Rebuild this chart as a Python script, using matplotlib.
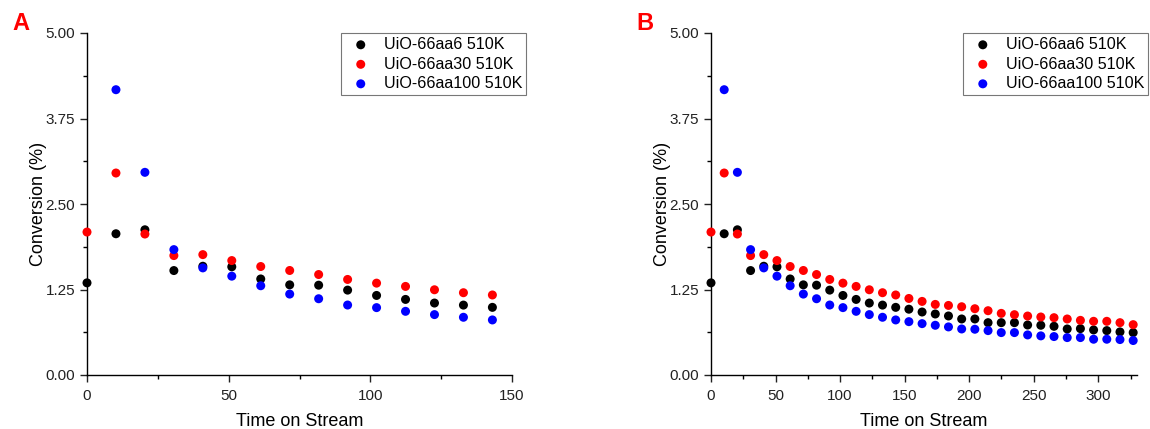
import numpy as np
import matplotlib
matplotlib.use("Agg")
import matplotlib.pyplot as plt
from matplotlib.ticker import MultipleLocator, FormatStrFormatter

plt.rcParams['font.family'] = ['Liberation Sans', 'DejaVu Sans']

# Sampling interval (time on stream) and run data
step = 10.22
n_a = 15
n_b = 33

aa6 = [1.347, 2.065, 2.123, 1.527, 1.590, 1.582, 1.404, 1.318, 1.313, 1.241,
       1.163, 1.105, 1.052, 1.022, 0.989, 0.962, 0.921, 0.892, 0.863, 0.819,
       0.819, 0.765, 0.765, 0.765, 0.731, 0.727, 0.712, 0.673, 0.678, 0.659,
       0.649, 0.630, 0.620]
aa30 = [2.090, 2.953, 2.061, 1.746, 1.760, 1.673, 1.586, 1.528, 1.469, 1.397,
        1.343, 1.295, 1.246, 1.203, 1.170, 1.119, 1.076, 1.032, 1.017, 0.998,
        0.969, 0.940, 0.901, 0.882, 0.862, 0.848, 0.838, 0.819, 0.799, 0.785,
        0.785, 0.765, 0.736]
aa100 = [np.nan, 4.171, 2.963, 1.833, 1.566, 1.445, 1.305, 1.183, 1.115, 1.023,
         0.985, 0.931, 0.883, 0.844, 0.805, 0.780, 0.751, 0.727, 0.703, 0.673,
         0.669, 0.649, 0.620, 0.620, 0.586, 0.572, 0.562, 0.547, 0.547, 0.523,
         0.523, 0.518, 0.504]

labels = ["UiO-66aa6 510K", "UiO-66aa30 510K", "UiO-66aa100 510K"]
colors = ["#000000", "#ff0000", "#0000ff"]

fig = plt.figure(figsize=(11.5, 4.29), dpi=100)
W, H = 1150, 429


def panel(rect, n, xmax, xmajor, legend_right, tag, tag_x):
    l, r, t, b = rect
    ax = fig.add_axes([l / W, 1 - b / H, (r - l) / W, (b - t) / H])
    t_vals = np.arange(n) * step
    for series, c, lab in zip([aa6, aa30, aa100], colors, labels):
        ax.scatter(t_vals, series[:n], s=42, color=c, label=lab,
                   edgecolors='none', clip_on=False, zorder=3)
    ax.set_xlim(0, xmax)
    ax.set_ylim(0, 5)
    ax.yaxis.set_major_locator(MultipleLocator(1.25))
    ax.yaxis.set_minor_locator(MultipleLocator(0.625))
    ax.yaxis.set_major_formatter(FormatStrFormatter('%.2f'))
    ax.xaxis.set_major_locator(MultipleLocator(xmajor))
    ax.xaxis.set_minor_locator(MultipleLocator(xmajor / 2))
    for s in ['top', 'right']:
        ax.spines[s].set_visible(False)
    for s in ['left', 'bottom']:
        ax.spines[s].set_linewidth(1.0)
    ax.tick_params(which='major', direction='out', length=5, width=1.0,
                   labelsize=11, colors='#222222')
    ax.tick_params(which='minor', direction='out', length=3, width=1.0)
    ax.tick_params(axis='x', which='major', pad=5)
    ax.set_xlabel("Time on Stream", fontsize=13, labelpad=7)
    ax.set_ylabel("Conversion (%)", fontsize=13, labelpad=-1)
    leg = ax.legend(loc='upper right', bbox_to_anchor=(legend_right, 1.0),
                    borderaxespad=0, fontsize=11.6, frameon=True, fancybox=False,
                    handletextpad=0.42, labelspacing=0.28, handlelength=2.0,
                    borderpad=0.25, scatterpoints=1)
    leg.get_frame().set_edgecolor('#555555')
    leg.get_frame().set_linewidth(0.8)
    fig.text(tag_x / W, 1 - 23 / H, tag, color='#ff0000', fontsize=17,
             fontweight='bold', ha='center', va='center')
    return ax


panel((87, 512, 33, 375), n_a, 150, 50, 1.033, "A", 21)
panel((711, 1137, 33, 375), n_b, 330, 50, 1.026, "B", 645)

fig.savefig("out.png", dpi=100, facecolor='white')
